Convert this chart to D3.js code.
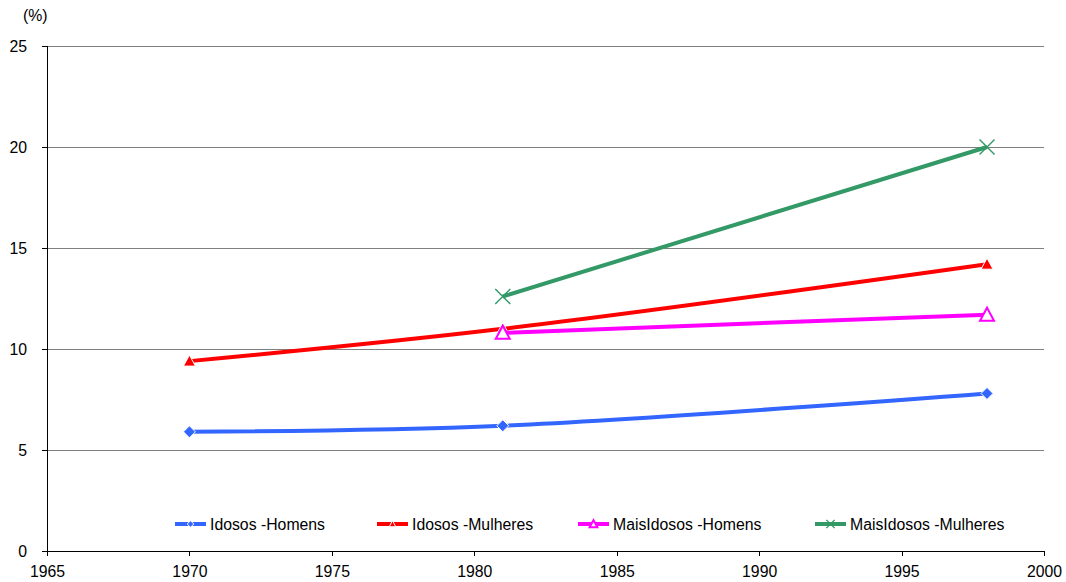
<!DOCTYPE html>
<html><head><meta charset="utf-8">
<script src="https://cdn.jsdelivr.net/npm/d3@7"></script>
<style>body{margin:0;background:#fff}svg{display:block;font-family:"Liberation Sans",Arial,sans-serif}</style>
</head><body><svg id="c" width="1066" height="582"></svg>
<script>
const years = [1970, 1981, 1998];
const idososHomens = [5.9, 6.2, 7.8];
const idososMulheres = [9.4, 11.0, 14.2];
const maisIdososHomens = [null, 10.8, 11.7];
const maisIdososMulheres = [null, 12.6, 20.0];
const seriesNames = ["Idosos -Homens", "Idosos -Mulheres", "MaisIdosos -Homens", "MaisIdosos -Mulheres"];
const xTicks = [1965, 1970, 1975, 1980, 1985, 1990, 1995, 2000];
const yTicks = [0, 5, 10, 15, 20, 25];

const series = [
  {name: seriesNames[0], vals: idososHomens, color: "#3366ff", marker: "diamond"},
  {name: seriesNames[1], vals: idososMulheres, color: "#ff0000", marker: "triangle"},
  {name: seriesNames[2], vals: maisIdososHomens, color: "#ff00ff", marker: "triangleOpen"},
  {name: seriesNames[3], vals: maisIdososMulheres, color: "#339966", marker: "cross"}
];

const FS = 15.8;
const svg = d3.select("#c");
const x = d3.scaleLinear().domain([1965, 2000]).range([47, 1044]);
const y = d3.scaleLinear().domain([0, 25]).range([551, 46]);

// gridlines
svg.append("g").selectAll("line").data(yTicks.filter(d => d > 0)).join("line")
  .attr("x1", x(1965)).attr("x2", x(2000))
  .attr("y1", d => y(d)).attr("y2", d => y(d))
  .attr("stroke", "#808080").attr("stroke-width", 1).attr("shape-rendering", "crispEdges");

// axes
const yAxis = d3.axisLeft(y).tickValues(yTicks).tickSize(5).tickPadding(15).tickFormat(d3.format("d"));
const gy = svg.append("g").attr("transform", `translate(${x(1965)},0)`).call(yAxis);
const xAxis = d3.axisBottom(x).tickValues(xTicks).tickSize(5).tickPadding(10).tickFormat(d3.format("d"));
const gx = svg.append("g").attr("transform", `translate(0,${y(0)})`).call(xAxis);
[gx, gy].forEach(g => {
  g.select(".domain").attr("stroke", "#000").attr("shape-rendering", "crispEdges");
  g.selectAll(".tick line").attr("stroke", "#000").attr("shape-rendering", "crispEdges");
  g.selectAll("text").attr("font-size", FS).attr("fill", "#000").attr("font-family", "Liberation Sans, Arial, sans-serif");
});
svg.append("text").attr("x", 23).attr("y", 21).attr("font-size", FS).text("(%)");

// lines
const line = d3.line()
  .defined(d => d.v != null)
  .x(d => x(d.year)).y(d => y(d.v))
  .curve(d3.curveCatmullRom.alpha(0.5));

function drawMarker(g, type, color, cx, cy, scale) {
  const s = scale || 1;
  if (type === "diamond") {
    g.append("path").attr("d", `M${cx},${cy-6*s}L${cx+6*s},${cy}L${cx},${cy+6*s}L${cx-6*s},${cy}Z`)
      .attr("fill", color).attr("stroke", "#fff").attr("stroke-width", 1);
  } else if (type === "triangle") {
    g.append("path").attr("d", `M${cx},${cy-6*s}L${cx+6*s},${cy+5*s}L${cx-6*s},${cy+5*s}Z`)
      .attr("fill", color).attr("stroke", "#fff").attr("stroke-width", 1);
  } else if (type === "triangleOpen") {
    g.append("path").attr("d", `M${cx},${cy-7*s}L${cx+7*s},${cy+6*s}L${cx-7*s},${cy+6*s}Z`)
      .attr("fill", "#fff").attr("stroke", color).attr("stroke-width", 2);
  } else if (type === "cross") {
    g.append("path").attr("d", `M${cx-7.5*s},${cy-7.5*s}L${cx+7.5*s},${cy+7.5*s}M${cx+7.5*s},${cy-7.5*s}L${cx-7.5*s},${cy+7.5*s}`)
      .attr("fill", "none").attr("stroke", color).attr("stroke-width", 1.4);
  }
}

series.forEach(s => {
  const pts = years.map((yr, i) => ({year: yr, v: s.vals[i]}));
  svg.append("path").datum(pts).attr("d", line)
    .attr("fill", "none").attr("stroke", s.color).attr("stroke-width", 4);
  const g = svg.append("g");
  pts.filter(p => p.v != null).forEach(p => drawMarker(g, s.marker, s.color, x(p.year), y(p.v)));
});

// legend
const legX = [175, 377, 578, 815];
const legY = 524;
series.forEach((s, i) => {
  const g = svg.append("g");
  g.append("line").attr("x1", legX[i]).attr("x2", legX[i] + 31).attr("y1", legY).attr("y2", legY)
    .attr("stroke", s.color).attr("stroke-width", 4);
  drawMarker(g, s.marker, s.color, legX[i] + 15.5, legY, 0.55);
  g.append("text").attr("x", legX[i] + 35).attr("y", legY + 6).attr("font-size", FS)
    .attr("fill", "#000").text(s.name);
});
</script></body></html>
